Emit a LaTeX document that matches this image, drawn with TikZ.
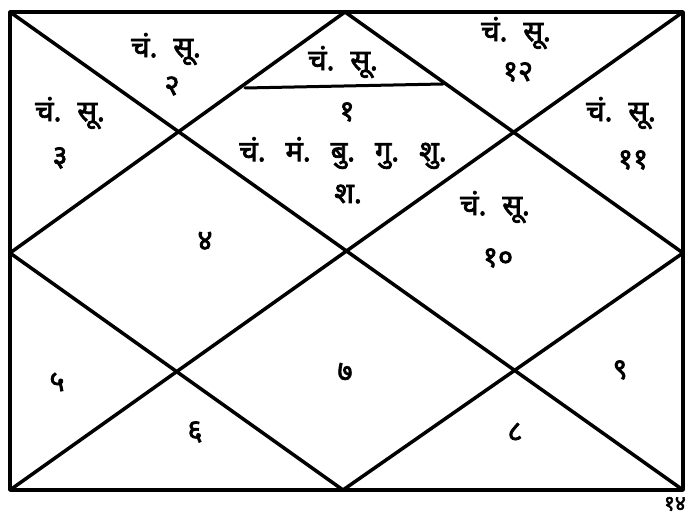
\documentclass[tikz,border=0pt]{standalone}
\usepackage{fontspec}
\newfontfamily\dev[Script=Devanagari,FakeBold=2.5]{Noto Sans}
\newcommand{\gapA}{\hspace{16pt}}
\newcommand{\gapB}{\hspace{20pt}}
\begin{document}
\begin{tikzpicture}[x=1pt,y=-1pt,
  chartline/.style={line width=3.5pt,line cap=round,line join=round,black},
  lbl/.style={font=\dev\fontsize{29}{32}\selectfont,inner sep=0pt},
  num/.style={font=\dev\fontsize{29}{32}\selectfont,inner sep=0pt}]
\useasboundingbox (0,0) rectangle (688,518);
\fill[white] (0,0) rectangle (688,518);
% frame corners and midpoints
\coordinate (tl) at (10,12);
\coordinate (tr) at (683,12);
\coordinate (br) at (683,490);
\coordinate (bl) at (10,490);
\coordinate (tm) at (345,12);
\coordinate (bm) at (343,490);
\coordinate (lm) at (10,253);
\coordinate (rm) at (683,253);
\coordinate (ia) at (245,88);
\coordinate (ib) at (443,84);
% frame
\draw[chartline] (tl) -- (tr) -- (br) -- (bl) -- cycle;
% diagonals
\draw[chartline] (tl) -- (br);
\draw[chartline] (tr) -- (bl);
% inner diamond
\draw[chartline] (tm) -- (rm) -- (bm) -- (lm) -- cycle;
% small triangle line in house 1
\draw[chartline,line width=3pt] (ia) -- (ib);
% labels
\node[lbl] (h2a) at (166,49) {चं.\gapA सू.};
\node[num] (h2n) at (172,86) {२};
\node[lbl] (h1a) at (343,62) {चं.\gapA सू.};
\node[num] (h1n) at (347,112) {१};
\node[lbl] (h12a) at (516,33) {चं.\gapA सू.};
\node[num] (h12n) at (518,72) {१२};
\node[lbl] (h3a) at (70,113) {चं.\gapA सू.};
\node[num] (h3n) at (60,158) {३};
\node[lbl] (h1b) at (343,153) {चं.\gapB मं.\gapB बु.\gapB गु.\gapB शु.};
\node[lbl] (h1c) at (348,194) {श.};
\node[lbl] (h11a) at (621,113) {चं.\gapA सू.};
\node[num] (h11n) at (633,160) {११};
\node[num] (h4n) at (205,241) {४};
\node[lbl] (h10a) at (495,207) {चं.\gapA सू.};
\node[num] (h10n) at (498,258) {१०};
\node[num] (h5n) at (57,382) {५};
\node[num] (h7n) at (345,372) {७};
\node[num] (h9n) at (620,370) {९};
\node[num] (h6n) at (195,432) {६};
\node[num] (h8n) at (515,432) {८};
\node[num,font=\dev\fontsize{21}{23}\selectfont,anchor=east] (pg) at (686,504) {१४};
\end{tikzpicture}
\end{document}
